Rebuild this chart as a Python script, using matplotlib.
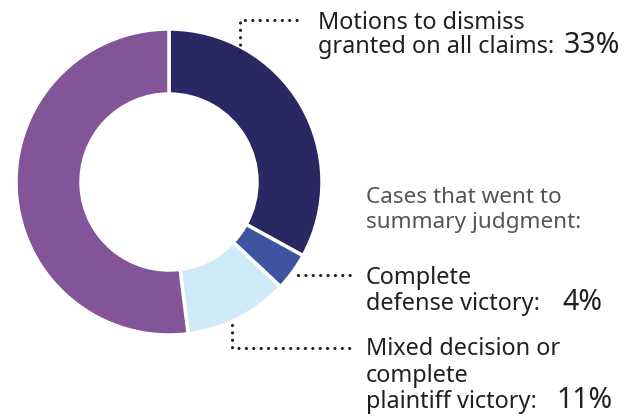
import matplotlib.pyplot as plt

plt.rcParams['font.family'] = ['Noto Sans', 'DejaVu Sans']

# data
labels = ['Motions to dismiss granted on all claims', 'Complete defense victory',
          'Mixed decision or complete plaintiff victory', 'Other']
values = [33, 4, 11, 52]
colors = ['#2a2862', '#3f54a0', '#d0eaf7', '#845499']
pct_text = ['33%', '4%', '11%']

W, H = 636, 417
fig = plt.figure(figsize=(W / 100, H / 100), dpi=100)
ax = fig.add_axes([0, 0, 1, 1])

# ---------- donut ----------
ax.pie(values, radius=153, center=(169, H - 182), startangle=90, counterclock=False,
       colors=colors, wedgeprops=dict(width=65, edgecolor='white', linewidth=2.5))
ax.set_xlim(0, W)
ax.set_ylim(0, H)
ax.set_aspect('equal')
ax.axis('off')

txt = '#231f20'
fs = 16.9
pfs = 20.5
dot = dict(color='#231f20', linewidth=2.3, linestyle=(0, (0.01, 2.3)),
           dash_capstyle='round', solid_capstyle='round')

# ---------- leader lines ----------
ax.plot([240, 240, 299], [H - 52, H - 20, H - 20], **dot)
ax.plot([298, 353], [H - 275, H - 275], **dot)
ax.plot([232, 232, 355], [H - 325, H - 348, H - 348], **dot)

# ---------- labels ----------
ax.text(318, H - 29, 'Motions to dismiss', fontsize=fs, color=txt, va='baseline')
ax.text(318, H - 53, 'granted on all claims:', fontsize=fs, color=txt, va='baseline')
ax.text(564, H - 53, pct_text[0], fontsize=pfs, color=txt, va='baseline')

ax.text(366, H - 203, 'Cases that went to', fontsize=16.2, color='#555555', va='baseline')
ax.text(366, H - 228, 'summary judgment:', fontsize=16.2, color='#555555', va='baseline')

ax.text(366, H - 284, 'Complete', fontsize=fs, color=txt, va='baseline')
ax.text(366, H - 310, 'defense victory:', fontsize=fs, color=txt, va='baseline')
ax.text(562, H - 310, pct_text[1], fontsize=pfs, color=txt, va='baseline')

ax.text(366, H - 355, 'Mixed decision or', fontsize=fs, color=txt, va='baseline')
ax.text(366, H - 382, 'complete', fontsize=fs, color=txt, va='baseline')
ax.text(366, H - 408, 'plaintiff victory:', fontsize=fs, color=txt, va='baseline')
ax.text(556, H - 408, pct_text[2], fontsize=pfs, color=txt, va='baseline')

plt.savefig('out.png', dpi=100)
